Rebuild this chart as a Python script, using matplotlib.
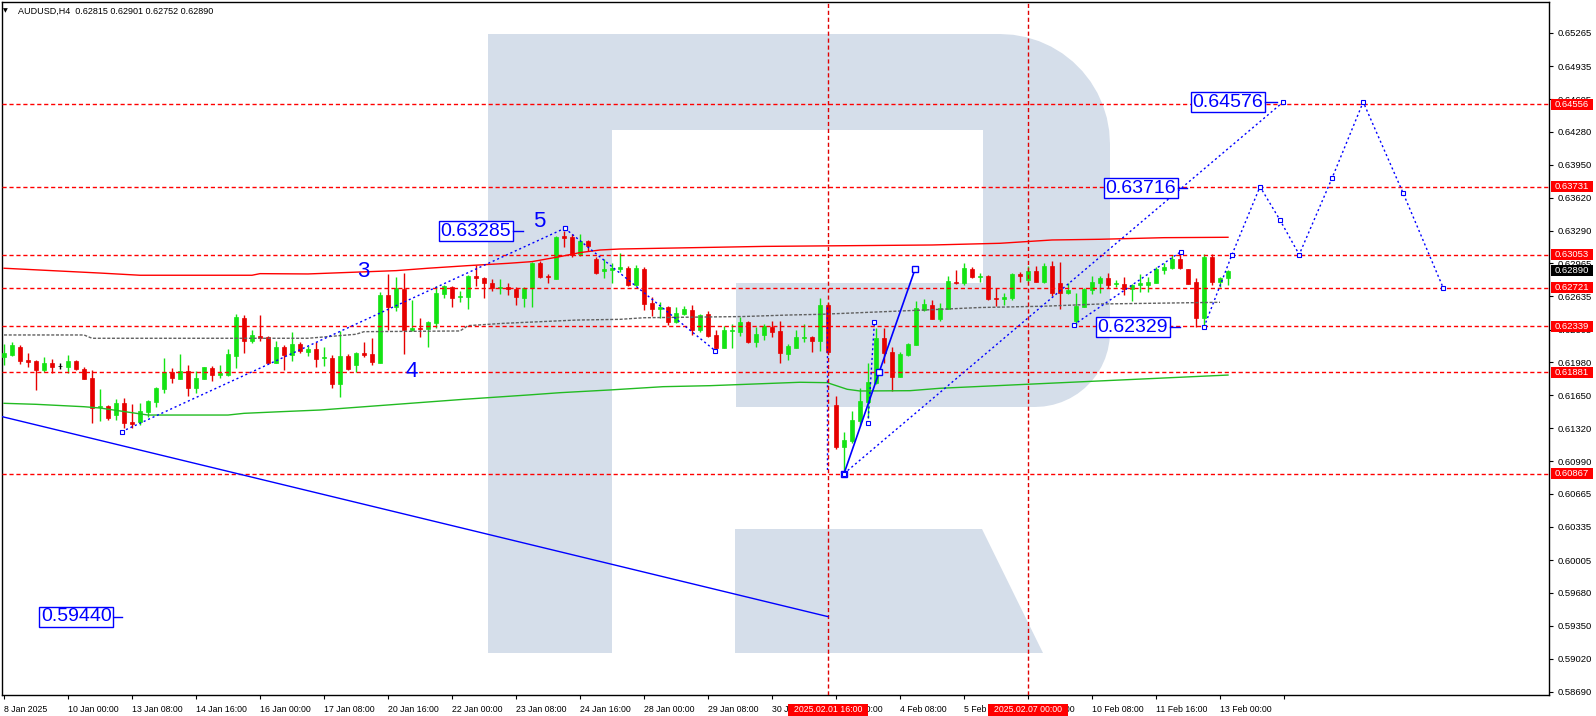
import numpy as np
import matplotlib
matplotlib.use('Agg')
import matplotlib.pyplot as plt
from matplotlib.patches import Polygon, Rectangle
from matplotlib.transforms import IdentityTransform

plt.rcParams['font.family'] = ['Liberation Sans', 'DejaVu Sans']

# AUDUSD H4 candles, 8 Jan 16:00 .. 13 Feb 2025
opens = [0.62028, 0.62048, 0.62131, 0.62001, 0.61991, 0.61904, 0.61971, 0.61941, 0.61934, 0.61994,
         0.61911, 0.61822, 0.61529, 0.61542, 0.61455, 0.61569, 0.61385, 0.61382, 0.61482, 0.61585,
         0.61712, 0.61881, 0.61815, 0.61891, 0.61725, 0.61815, 0.61921, 0.61854, 0.61854, 0.62044,
         0.62420, 0.62194, 0.62241, 0.62231, 0.61974, 0.62131, 0.62051, 0.62161, 0.62084, 0.62111,
         0.62021, 0.62024, 0.61765, 0.62044, 0.61954, 0.62071, 0.62061, 0.61974, 0.62650, 0.62533,
         0.62710, 0.62298, 0.62324, 0.62308, 0.62373, 0.62663, 0.62727, 0.62627, 0.62633, 0.62840,
         0.62820, 0.62767, 0.62717, 0.62727, 0.62713, 0.62623, 0.62717, 0.62972, 0.62843, 0.62813,
         0.63239, 0.63232, 0.63059, 0.63192, 0.63006, 0.62886, 0.62899, 0.62909, 0.62922, 0.62750,
         0.62906, 0.62573, 0.62510, 0.62533, 0.62383, 0.62460, 0.62497, 0.62301, 0.62457, 0.62251,
         0.62124, 0.62291, 0.62284, 0.62383, 0.62181, 0.62254, 0.62334, 0.62291, 0.62061, 0.62124,
         0.62224, 0.62228, 0.62194, 0.62550, 0.61552, 0.61136, 0.61193, 0.61392, 0.61585, 0.61769,
         0.62218, 0.62081, 0.61835, 0.62051, 0.62151, 0.62500, 0.62550, 0.62413, 0.62513, 0.62783,
         0.62767, 0.62906, 0.62832, 0.62840, 0.62623, 0.62607, 0.62620, 0.62860, 0.62800, 0.62889,
         0.62777, 0.62942, 0.62767, 0.62673, 0.62390, 0.62533, 0.62700, 0.62773, 0.62817, 0.62757,
         0.62760, 0.62710, 0.62750, 0.62750, 0.62773, 0.62899, 0.62922, 0.63006, 0.62906, 0.62783,
         0.62417, 0.63032, 0.62777, 0.62815]
highs = [0.62161, 0.62181, 0.62148, 0.62068, 0.62001, 0.62028, 0.62011, 0.61974, 0.62051, 0.62001,
         0.61934, 0.61901, 0.61709, 0.61555, 0.61609, 0.61622, 0.61562, 0.61569, 0.61602, 0.61735,
         0.62024, 0.61918, 0.62061, 0.61951, 0.61891, 0.61934, 0.61941, 0.61951, 0.62111, 0.62460,
         0.62447, 0.62301, 0.62450, 0.62241, 0.62191, 0.62148, 0.62278, 0.62184, 0.62141, 0.62184,
         0.62134, 0.62051, 0.62291, 0.62061, 0.62084, 0.62178, 0.62224, 0.62677, 0.62862, 0.62832,
         0.62872, 0.62600, 0.62417, 0.62393, 0.62740, 0.62750, 0.62743, 0.62693, 0.62850, 0.62946,
         0.62832, 0.62810, 0.62807, 0.62767, 0.62727, 0.62727, 0.62979, 0.62989, 0.62860, 0.63239,
         0.63285, 0.63256, 0.63256, 0.63199, 0.63026, 0.63012, 0.62972, 0.63066, 0.62939, 0.62949,
         0.62926, 0.62633, 0.62577, 0.62540, 0.62533, 0.62540, 0.62550, 0.62457, 0.62490, 0.62301,
         0.62344, 0.62361, 0.62427, 0.62390, 0.62334, 0.62361, 0.62393, 0.62390, 0.62158, 0.62301,
         0.62361, 0.62241, 0.62623, 0.62567, 0.61645, 0.61286, 0.61495, 0.61719, 0.61968, 0.62324,
         0.62324, 0.62128, 0.62084, 0.62174, 0.62593, 0.62607, 0.62600, 0.62567, 0.62840, 0.62899,
         0.62966, 0.62926, 0.62872, 0.62847, 0.62717, 0.62667, 0.62867, 0.62882, 0.62939, 0.62939,
         0.62966, 0.62989, 0.62982, 0.62773, 0.62667, 0.62717, 0.62840, 0.62840, 0.62867, 0.62800,
         0.62827, 0.62760, 0.62857, 0.62832, 0.62932, 0.62966, 0.63049, 0.63099, 0.62912, 0.62817,
         0.63059, 0.63059, 0.62827, 0.62901]
lows = [0.61951, 0.62041, 0.61961, 0.61934, 0.61702, 0.61884, 0.61874, 0.61908, 0.61868, 0.61901,
        0.61809, 0.61375, 0.61395, 0.61402, 0.61402, 0.61320, 0.61320, 0.61353, 0.61435, 0.61529,
        0.61675, 0.61775, 0.61815, 0.61645, 0.61675, 0.61809, 0.61795, 0.61822, 0.61841, 0.61924,
        0.62074, 0.62174, 0.62194, 0.61968, 0.61974, 0.61901, 0.61994, 0.62068, 0.62041, 0.61934,
        0.61944, 0.61725, 0.61635, 0.61901, 0.61884, 0.62034, 0.61948, 0.61974, 0.62301, 0.62493,
        0.62061, 0.62294, 0.62234, 0.62134, 0.62324, 0.62623, 0.62533, 0.62583, 0.62510, 0.62740,
        0.62623, 0.62693, 0.62657, 0.62650, 0.62547, 0.62533, 0.62533, 0.62823, 0.62773, 0.62813,
        0.63132, 0.63026, 0.63039, 0.63092, 0.62860, 0.62817, 0.62767, 0.62882, 0.62740, 0.62740,
        0.62500, 0.62440, 0.62417, 0.62350, 0.62373, 0.62450, 0.62251, 0.62284, 0.62228, 0.62084,
        0.62118, 0.62121, 0.62241, 0.62168, 0.62128, 0.62201, 0.62228, 0.61974, 0.62001, 0.62118,
        0.62184, 0.62084, 0.62094, 0.62068, 0.61116, 0.60867, 0.61170, 0.61346, 0.61419, 0.61762,
        0.61968, 0.61692, 0.61835, 0.62041, 0.62151, 0.62493, 0.62413, 0.62393, 0.62507, 0.62760,
        0.62750, 0.62817, 0.62783, 0.62600, 0.62540, 0.62550, 0.62600, 0.62783, 0.62783, 0.62777,
        0.62767, 0.62640, 0.62513, 0.62660, 0.62350, 0.62527, 0.62657, 0.62667, 0.62717, 0.62733,
        0.62650, 0.62590, 0.62683, 0.62683, 0.62773, 0.62860, 0.62906, 0.62906, 0.62757, 0.62335,
        0.62329, 0.62750, 0.62733, 0.62752]
closes = [0.62068, 0.62148, 0.61994, 0.61981, 0.61901, 0.61971, 0.61931, 0.61941, 0.61991, 0.61908,
          0.61815, 0.61519, 0.61545, 0.61425, 0.61569, 0.61375, 0.61366, 0.61489, 0.61592, 0.61725,
          0.61878, 0.61825, 0.61888, 0.61725, 0.61822, 0.61931, 0.61854, 0.61868, 0.62061, 0.62427,
          0.62194, 0.62251, 0.62224, 0.61974, 0.62131, 0.62051, 0.62161, 0.62091, 0.62111, 0.62014,
          0.62034, 0.61765, 0.62041, 0.61908, 0.62068, 0.62051, 0.61981, 0.62650, 0.62533, 0.62717,
          0.62298, 0.62321, 0.62308, 0.62377, 0.62670, 0.62740, 0.62623, 0.62640, 0.62840, 0.62817,
          0.62767, 0.62717, 0.62727, 0.62707, 0.62633, 0.62717, 0.62966, 0.62832, 0.62827, 0.63232,
          0.63222, 0.63049, 0.63189, 0.63142, 0.62872, 0.62906, 0.62919, 0.62926, 0.62750, 0.62916,
          0.62560, 0.62510, 0.62527, 0.62380, 0.62473, 0.62507, 0.62301, 0.62447, 0.62241, 0.62121,
          0.62301, 0.62301, 0.62383, 0.62181, 0.62261, 0.62341, 0.62284, 0.62074, 0.62141, 0.62228,
          0.62231, 0.62194, 0.62550, 0.62084, 0.61136, 0.61203, 0.61402, 0.61592, 0.61779, 0.62218,
          0.62074, 0.61835, 0.62061, 0.62161, 0.62520, 0.62560, 0.62413, 0.62520, 0.62790, 0.62767,
          0.62922, 0.62832, 0.62843, 0.62610, 0.62607, 0.62633, 0.62857, 0.62840, 0.62889, 0.62783,
          0.62942, 0.62667, 0.62673, 0.62700, 0.62540, 0.62710, 0.62780, 0.62820, 0.62750, 0.62770,
          0.62710, 0.62750, 0.62767, 0.62780, 0.62912, 0.62932, 0.63009, 0.62916, 0.62763, 0.62417,
          0.63032, 0.62777, 0.62820, 0.62890]

# indicator lines (bar index, price)
red_ma_x = [0, 12, 17, 31, 32, 38, 49, 53, 58, 63, 66, 69.5, 72, 74.5, 77, 95, 116, 124.5, 131, 137, 145, 153]
red_ma_y = [0.62917, 0.62869, 0.62847, 0.62847, 0.62863, 0.62860, 0.62893, 0.62917, 0.62943, 0.62966,
            0.62983, 0.63033, 0.63073, 0.63099, 0.63109, 0.63135, 0.63149, 0.63166, 0.63199, 0.63206,
            0.63222, 0.63226]
green_ma_x = [0, 4, 10, 12, 18, 28, 30, 34.5, 39.5, 57.5, 65.5, 69.5, 75.7, 82.4, 88.25, 99.5, 102.9,
              105.4, 107, 113.25, 117, 153]
green_ma_y = [0.61569, 0.61559, 0.61535, 0.61522, 0.61452, 0.61452, 0.61469, 0.61485, 0.61502, 0.61609,
              0.61652, 0.61675, 0.61702, 0.61735, 0.61745, 0.61779, 0.61775, 0.61709, 0.61692, 0.61695,
              0.61719, 0.61851]
gray_ma_x = [0, 10, 11, 38, 44, 45, 57, 58, 62.4, 71.6, 77, 80, 92.4, 98, 102, 112, 117, 122, 130, 137, 152]
gray_ma_y = [0.62251, 0.62251, 0.62218, 0.62218, 0.62258, 0.62284, 0.62291, 0.62344, 0.62367, 0.62400,
             0.62407, 0.62423, 0.62435, 0.62450, 0.62457, 0.62490, 0.62507, 0.62525, 0.62538, 0.62560,
             0.62577]

levels = [0.64556, 0.63731, 0.63053, 0.62721, 0.62339, 0.61881, 0.60867]
vlines_x = [103, 128]
vlines_txt = ['2025.02.01 16:00', '2025.02.07 00:00']

# wave markup
trend_x = [-0.25, 103]
trend_y = [0.61436, 0.59440]
impulse_x = [105, 109.4, 113.9]
impulse_y = [0.60867, 0.61881, 0.62912]
wave_a_x, wave_a_y = [14.7, 70.1], [0.61286, 0.63316]
wave_b_x, wave_b_y = [70.1, 88.9], [0.63316, 0.62094]
wave_c_x, wave_c_y = [102.9, 102.9], [0.62530, 0.60900]
wave_d_x, wave_d_y = [108.0, 108.8], [0.61372, 0.62380]
wave_e_x, wave_e_y = [133.7, 147.1], [0.62351, 0.63082]
target_x, target_y = [105, 159.9], [0.60867, 0.64576]
proj_x = [150, 153.5, 157, 159.5, 161.9, 166, 169.9, 174.9, 179.9]
proj_y = [0.62329, 0.63053, 0.63731, 0.63398, 0.63053, 0.63815, 0.64576, 0.63665, 0.62721]

box_txt = ['0.63285', '0.64576', '0.63716', '0.62329', '0.59440']
box_x = [59.0, 153.0, 142.1, 141.1, 9.05]
box_y = [0.63285, 0.64576, 0.63716, 0.62329, 0.59440]
box_tail = [(63.6, 64.9), (157.6, 159.1), (146.7, 147.9), (145.7, 147.0), (13.75, 14.75)]
wave_num = ['3', '4', '5']
wave_num_x = [44.9, 50.96, 66.9]
wave_num_y = [0.62882, 0.61884, 0.63382]

yticks = [0.65265, 0.64935, 0.64605, 0.64280, 0.63950, 0.63620, 0.63290, 0.62965, 0.62635, 0.62305,
          0.61980, 0.61650, 0.61320, 0.60990, 0.60665, 0.60335, 0.60005, 0.59680, 0.59350, 0.59020, 0.58690]
xtick_pos = list(range(0, 161, 8))
xtick_lab = ['8 Jan 2025', '10 Jan 00:00', '13 Jan 08:00', '14 Jan 16:00', '16 Jan 00:00',
             '17 Jan 08:00', '20 Jan 16:00', '22 Jan 00:00', '23 Jan 08:00', '24 Jan 16:00',
             '28 Jan 00:00', '29 Jan 08:00', '30 Jan 16:00', '3 Feb 00:00', '4 Feb 08:00',
             '5 Feb 16:00', '7 Feb 00:00', '10 Feb 08:00', '11 Feb 16:00', '13 Feb 00:00', '']

GREEN = '#14e314'
RED = '#e60000'
BLUE = '#0000ff'
LOGO = '#d5deea'

W, H = 1596, 716
fig = plt.figure(figsize=(W / 100, H / 100), dpi=100)
ax = fig.add_axes([2 / W, 1 - 695 / H, 1547 / W, 693 / H])
ax.set_xlim(-0.25, 193.125)
ax.set_ylim(0.58658, 0.65574)


def fpx(pts):
    return [(x / W, 1 - y / H) for x, y in pts]


def arc(cx, cy, r, a0, a1, n=14):
    t = np.radians(np.linspace(a0, a1, n))
    return [(cx + r * np.cos(a), cy - r * np.sin(a)) for a in t]


# watermark "R"
stem = [(488, 34), (612, 34), (612, 653), (488, 653)]
bowl = ([(612, 34)] + arc(1000, 144, 110, 90, 0) + arc(1035, 332, 75, 0, -90)
        + [(736, 407), (736, 283), (983, 283), (983, 130), (612, 130)])
leg = [(735, 529), (982, 529), (1043, 653), (735, 653)]
for shape in (stem, bowl, leg):
    ax.add_patch(Polygon(fpx(shape), closed=True, transform=fig.transFigure,
                         fc=LOGO, ec='none', zorder=0))

# candles
o, h, l, c = map(np.array, (opens, highs, lows, closes))
idx = np.arange(len(o))
cols = np.where(c > o, GREEN, np.where(c < o, RED, 'black'))
ax.vlines(idx, l, h, colors=cols, lw=1, zorder=3)
ax.bar(idx, np.maximum(np.abs(c - o), 0.00001), bottom=np.minimum(o, c), width=0.6,
       color=cols, edgecolor=cols, lw=0.5, zorder=3)

# indicators
ax.plot(red_ma_x, red_ma_y, color='#ff0000', lw=1, zorder=4)
ax.plot(green_ma_x, green_ma_y, color='#22bb22', lw=1, zorder=4)
ax.plot(gray_ma_x, gray_ma_y, color='#606060', lw=1, ls=(0, (2.2, 1.2)), zorder=4)

# levels
for lv in levels:
    ax.axhline(lv, color='#ff0000', lw=1, ls=(0, (3, 2)), zorder=5)

# wave lines
dash = (0, (1.5, 2))
mk = dict(marker='s', ms=3, mfc='white', mec=BLUE, mew=0.8)
ax.plot(wave_c_x, wave_c_y, color=BLUE, lw=1, ls=dash, zorder=5)
for vx in vlines_x:
    ax.axvline(vx, color='#e00000', lw=1, ls=(0, (3, 2)), zorder=5)
ax.plot(trend_x, trend_y, color=BLUE, lw=1, zorder=6)
ax.plot(impulse_x, impulse_y, color=BLUE, lw=1.2, zorder=6, marker='s', ms=5, mfc='white',
        mec=BLUE, mew=1)
for xs, ys in ((wave_a_x, wave_a_y), (wave_b_x, wave_b_y), (wave_d_x, wave_d_y),
               (wave_e_x, wave_e_y), (target_x, target_y), (proj_x, proj_y)):
    ax.plot(xs, ys, color=BLUE, lw=1, ls=dash, zorder=6, **mk)

for t, bx, by, tail in zip(box_txt, box_x, box_y, box_tail):
    ax.text(bx, by, t, ha='center', va='center', fontsize=14, color=BLUE, zorder=7,
            bbox=dict(boxstyle='square,pad=0.08', fc='white', ec=BLUE, lw=1))
    ax.plot(tail, [by, by], color=BLUE, lw=1, zorder=7)
for t, wx, wy in zip(wave_num, wave_num_x, wave_num_y):
    ax.text(wx, wy, t, ha='center', va='center', fontsize=16, color=BLUE, zorder=7)

# axes styling
for s in ax.spines.values():
    s.set_color('black')
    s.set_linewidth(1)
ax.yaxis.tick_right()
ax.set_yticks(yticks)
ax.set_yticklabels([f'{v:.5f}' for v in yticks])
ax.tick_params(axis='y', direction='out', length=3, pad=3, labelsize=6.8, colors='black')
ax.set_xticks(xtick_pos)
ax.set_xticklabels(xtick_lab, ha='left')
ax.tick_params(axis='x', direction='out', length=3, pad=4, labelsize=6.3, colors='black')

# price labels on the right axis
fig.canvas.draw()
right_lbl = [(lv, '#ff0000') for lv in levels] + [(closes[-1], 'black')]
for lv, col in right_lbl:
    ydisp = ax.transData.transform((0, lv))[1]
    fig.add_artist(Rectangle((1551, ydisp - 5.5), 42, 11, transform=IdentityTransform(),
                             fc=col, ec='none', zorder=10))
    fig.text(1572 / W, ydisp / H, f'{lv:.5f}', ha='center', va='center', fontsize=6.8,
             color='white', zorder=11)

# date labels for vertical lines
for vx, t in zip(vlines_x, vlines_txt):
    xdisp = ax.transData.transform((vx, 0.6))[0]
    fig.add_artist(Rectangle((xdisp - 40, 0), 80, 12, transform=IdentityTransform(),
                             fc='#ff0000', ec='none', zorder=10))
    fig.text(xdisp / W, 6 / H, t, ha='center', va='center', fontsize=6.3, color='white', zorder=11)

# header
fig.text(3 / W, 1 - 11 / H, '\u25bc', fontsize=4.5, family='DejaVu Sans', va='center')
fig.text(18 / W, 1 - 11 / H,
         f'AUDUSD,H4  {opens[-1]:.5f} {highs[-1]:.5f} {lows[-1]:.5f} {closes[-1]:.5f}',
         fontsize=6.5, va='center')

fig.savefig('out.png', dpi=100)
